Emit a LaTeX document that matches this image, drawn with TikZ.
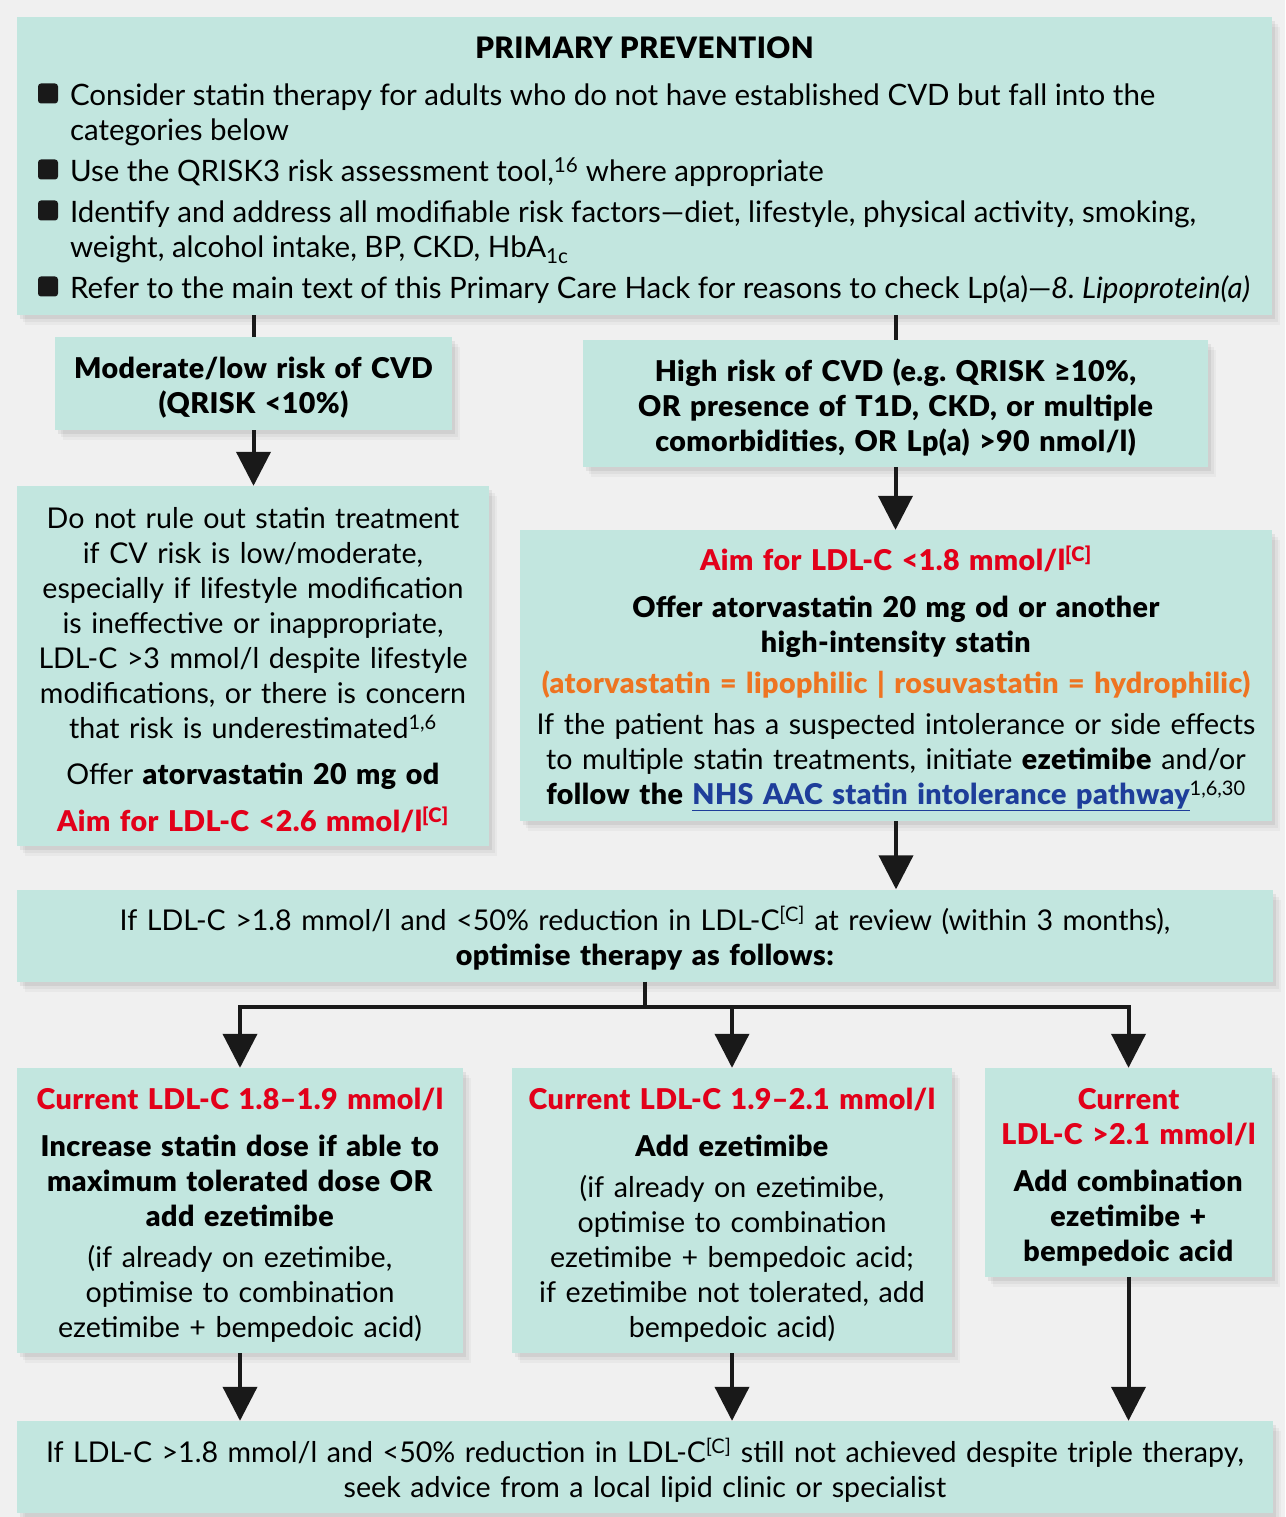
\documentclass[tikz,border=0pt]{standalone}
\usepackage{fontspec}
\setmainfont{Lato}[BoldFont={Lato Black}, BoldItalicFont={Lato Black Italic}, BoldFeatures={LetterSpace=1.5}]
\usetikzlibrary{arrows.meta,shadows}

\definecolor{pageBg}{HTML}{F0F0F0}
\definecolor{boxFill}{HTML}{C2E6DF}
\definecolor{aimRed}{HTML}{E2001A}
\definecolor{statOrange}{HTML}{EE7421}
\definecolor{linkBlue}{HTML}{1E3E9A}

% small helpers for the text
\newcommand{\bsq}{\tikz[baseline={(0pt,-2pt)}]\fill[black!90,rounded corners=3pt] (0pt,0pt) rectangle (20pt,20pt);}
\newcommand{\bitem}{\par\vspace{6pt}\noindent\hangindent=32pt\hangafter=1\makebox[32pt][l]{\bsq}}
\newcommand{\aimtxt}[1]{\textcolor{aimRed}{\bfseries #1}}
\newcommand{\refC}{\textsuperscript{[C]}}
\newcommand{\topstrut}{\rule{0pt}{30pt}}

\begin{document}
\begin{tikzpicture}[x=1pt, y=-1pt,
    panel/.style={fill=boxFill, inner sep=0pt, align=center,
        font=\fontsize{28.6}{35}\selectfont,
        execute at begin node=\topstrut,
        drop shadow={shadow xshift=8pt, shadow yshift=-10pt, opacity=0.03, fill=black},
        drop shadow={shadow xshift=6pt, shadow yshift=-7pt, opacity=0.04, fill=black},
        drop shadow={shadow xshift=3pt, shadow yshift=-4pt, opacity=0.06, fill=black}},
    link/.style={draw=black!90, line width=4pt},
    arrow/.style={link, -{Triangle[width=34pt,length=34pt]}}]

    % Page
    \fill[pageBg] (0,0) rectangle (1285,1517);
    \useasboundingbox (0,0) rectangle (1285,1517);

    % Primary prevention
    \node[panel, align=none, execute at begin node={}, minimum width=1255pt, minimum height=298pt, text width=1224pt, font=\fontsize{29.5}{35}\selectfont] (prim) at (644.5,166) {%
        \centerline{\topstrut\bfseries PRIMARY PREVENTION}\par\vspace{6pt}\raggedright\leftskip=5.5pt
        \bitem Consider statin therapy for adults who do not have established CVD but fall into the\newline categories below
        \bitem Use the QRISK3 risk assessment tool,\textsuperscript{16} where appropriate
        \bitem Identify and address all modifiable risk factors—diet, lifestyle, physical activity, smoking,\newline weight, alcohol intake, BP, CKD, HbA\textsubscript{1c}
        \bitem \mbox{Refer to the main text of this Primary Care Hack for reasons to check Lp(a)—\textit{8.~Lipoprotein(a)}}\par};

    % Risk groups
    \node[panel, minimum width=397pt, minimum height=93pt, text width=397pt, font=\fontsize{28.6}{35}\selectfont\bfseries] (mod) at (253.5,383.5)
        {Moderate/low risk of CVD\\(QRISK <10\%)};
    \node[panel, minimum width=625pt, minimum height=127pt, text width=625pt, font=\fontsize{28.6}{35}\selectfont\bfseries] (high) at (895.5,403.5)
        {High risk of CVD (e.g.\ QRISK ≥10\%,\\OR presence of T1D, CKD, or multiple\\comorbidities, OR Lp(a) >90 nmol/l)};

    % Treatment
    \node[panel, minimum width=472pt, minimum height=360pt, text width=472pt] (low) at (253,666)
        {Do not rule out statin treatment\\if CV risk is low/moderate,\\especially if lifestyle modification\\is ineffective or inappropriate,\\LDL-C >3 mmol/l despite lifestyle\\modifications, or there is concern\\that risk is underestimated\textsuperscript{1,6}\\[11pt]
         Offer \textbf{atorvastatin 20 mg od}\\[12pt]
         \aimtxt{Aim for LDL-C <2.6 mmol/l\refC}};
    \node[panel, minimum width=752pt, minimum height=291pt, text width=752pt] (aim) at (896,675.5)
        {\aimtxt{Aim for LDL-C <1.8 mmol/l\refC}\\[12pt]
         \textbf{Offer atorvastatin 20 mg od or another}\\\textbf{high-intensity statin}\\[6pt]
         \textcolor{statOrange}{\bfseries (atorvastatin = lipophilic | rosuvastatin = hydrophilic)}\\[6pt]
         If the patient has a suspected intolerance or side effects\\to multiple statin treatments, initiate \textbf{ezetimibe} and/or\\
         \textbf{follow the \textcolor{linkBlue}{\underline{NHS AAC statin intolerance pathway}}}\textsuperscript{1,6,30}};

    % Review
    \node[panel, minimum width=1256pt, minimum height=92pt, text width=1256pt] (opt) at (645,935.5)
        {If LDL-C >1.8 mmol/l and <50\% reduction in LDL-C\refC{} at review (within 3 months),\\\textbf{optimise therapy as follows:}};

    % Optimisation by current LDL-C
    \node[panel, minimum width=446pt, minimum height=285pt, text width=446pt] (c1) at (240,1210.5)
        {\aimtxt{Current LDL-C 1.8--1.9 mmol/l}\\[12pt]
         \textbf{Increase statin dose if able to}\\\textbf{maximum tolerated dose OR}\\\textbf{add ezetimibe}\\[6pt]
         (if already on ezetimibe,\\optimise to combination\\ezetimibe + bempedoic acid)};
    \node[panel, minimum width=440pt, minimum height=285pt, text width=440pt] (c2) at (732,1210.5)
        {\aimtxt{Current LDL-C 1.9--2.1 mmol/l}\\[12pt]
         \textbf{Add ezetimibe}\\[6pt]
         (if already on ezetimibe,\\optimise to combination\\ezetimibe + bempedoic acid;\\if ezetimibe not tolerated, add\\bempedoic acid)};
    \node[panel, minimum width=287pt, minimum height=209pt, text width=287pt] (c3) at (1128.5,1172.5)
        {\aimtxt{Current}\\\aimtxt{LDL-C >2.1 mmol/l}\\[12pt]
         \textbf{Add combination}\\\textbf{ezetimibe +}\\\textbf{bempedoic acid}};

    % Specialist
    \node[panel, minimum width=1256pt, minimum height=92pt, text width=1256pt] (spec) at (645,1467)
        {If LDL-C >1.8 mmol/l and <50\% reduction in LDL-C\refC{} still not achieved despite triple therapy,\\seek advice from a local lipid clinic or specialist};

    % Connectors
    \draw[link] (prim.south -| mod.north) -- (mod.north);
    \draw[link] (prim.south -| high.north) -- (high.north);
    \draw[arrow] (mod.south) -- (mod.south |- low.north);
    \draw[arrow] (high.south) -- (high.south |- aim.north);
    \draw[arrow] (aim.south) -- (aim.south |- opt.north);

    \draw[link] (opt.south) -- ++(0,25) coordinate (split);
    \draw[arrow] (split) -| (c1.north);
    \draw[arrow] (split) -| (c3.north);
    \draw[arrow] (split -| c2.north) -- (c2.north);

    \foreach \c in {c1,c2,c3}
        \draw[arrow] (\c.south) -- (\c.south |- spec.north);

\end{tikzpicture}
\end{document}
